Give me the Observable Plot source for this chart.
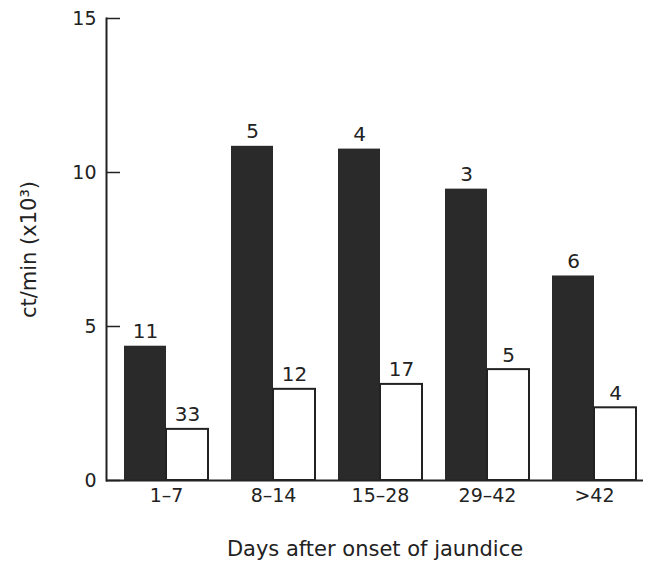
<!DOCTYPE html>
<html><head><meta charset="utf-8">
<script src="https://cdn.jsdelivr.net/npm/d3@7"></script>
<script src="https://cdn.jsdelivr.net/npm/@observablehq/plot@0.6"></script>
<style>body{margin:0;background:#fff}</style>
</head><body><div id="chart"></div>
<script>
const categories = ["1–7", "8–14", "15–28", "29–42", ">42"];
const blackValues = [4.36, 10.85, 10.76, 9.46, 6.64];
const whiteValues = [1.66, 2.96, 3.12, 3.60, 2.36];
const blackCounts = [11, 5, 4, 3, 6];
const whiteCounts = [33, 12, 17, 5, 4];
const yTicks = [0, 5, 10, 15];

const blackData = categories.map((c, i) => ({cat: c, value: blackValues[i], n: blackCounts[i]}));
const whiteData = categories.map((c, i) => ({cat: c, value: whiteValues[i], n: whiteCounts[i]}));

const W = 648, H = 580, ML = 106, MR = 5, MT = 18, MB = 100;
const font = "'DejaVu Sans', sans-serif";
const base = {
  width: W, height: H, marginLeft: ML, marginRight: MR, marginTop: MT, marginBottom: MB,
  x: {domain: categories, paddingInner: 0.218, paddingOuter: 0.116, align: 0.7},
  y: {domain: [0, 15]},
  style: {fontFamily: font, fontSize: "18px", color: "#222", background: "#fff"}
};
const probe = Plot.plot({...base, marks: [Plot.barY(blackData, {x: "cat", y: "value"})]});
const bw = probe.scale("x").bandwidth;
const ink = "#222";

const chart = Plot.plot({
  ...base,
  marks: [
    Plot.barY(blackData, {x: "cat", y: "value", fill: "#2a2a2a", insetLeft: 0, insetRight: bw / 2}),
    Plot.barY(whiteData, {x: "cat", y: "value", fill: "white", stroke: ink, strokeWidth: 2, insetLeft: bw / 2, insetRight: 0}),
    Plot.text(blackData, {x: "cat", y: "value", text: "n", dx: -bw / 4, dy: -8, lineAnchor: "bottom", fontSize: 20, fill: ink}),
    Plot.text(whiteData, {x: "cat", y: "value", text: "n", dx: bw / 4, dy: -8, lineAnchor: "bottom", fontSize: 20, fill: ink}),
    Plot.ruleY([0], {stroke: ink, strokeWidth: 2}),
    Plot.frame({anchor: "left", stroke: ink, strokeWidth: 2}),
    Plot.ruleY(yTicks, {stroke: ink, strokeWidth: 1.5, insetRight: (W - ML - MR) - 14}),
    Plot.axisY(yTicks, {tickSize: 0, tickPadding: 10, fontSize: 19, label: null, fill: ink}),
    Plot.axisY({ticks: [], tickSize: 0, fontSize: 21, label: "ct/min (x10³)", labelAnchor: "center", labelOffset: 85, labelArrow: "none", fill: ink}),
    Plot.axisX({tickSize: 0, tickPadding: 8, fontSize: 19, label: null, fill: ink}),
    Plot.axisX({ticks: [], tickSize: 0, fontSize: 21, label: "Days after onset of jaundice", labelAnchor: "center", labelOffset: 75, labelArrow: "none", fill: ink, dx: 5})
  ]
});
document.getElementById("chart").append(chart);
</script>
</body></html>
